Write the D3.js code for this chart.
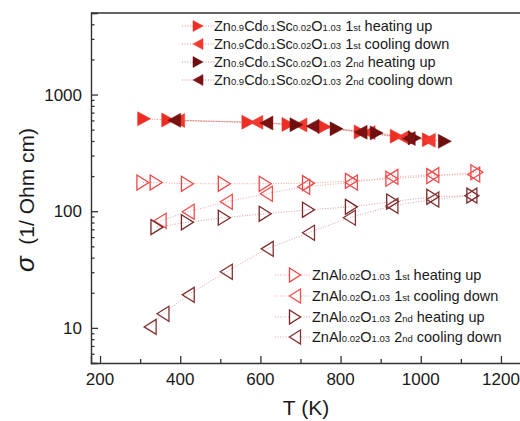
<!DOCTYPE html>
<html><head><meta charset="utf-8">
<script src="https://cdn.jsdelivr.net/npm/d3@7"></script>
<style>body{margin:0;background:#fff}svg{display:block}text{font-family:"Liberation Sans",Arial,sans-serif}</style>
</head><body>
<svg id="chart" width="520" height="421"></svg>
<script>
// ---- data: Zn0.9Cd0.1Sc0.02O1.03 ----
const cdHeat1T = [310, 370, 570, 670, 760, 850, 940, 1020];
const cdHeat1S = [620, 605, 580, 555, 530, 478, 440, 410];
const cdCool1T = [1020, 955, 870, 700, 590, 395];
const cdCool1S = [405, 428, 472, 548, 578, 600];
const cdHeat2T = [690, 790, 890, 985, 1060];
const cdHeat2S = [552, 508, 469, 425, 397];
const cdCool2T = [970, 850, 730, 615, 385];
const cdCool2S = [420, 475, 535, 570, 601];
// ---- data: ZnAl0.02O1.03 ----
const alHeat1T = [307, 340, 418, 510, 612, 720, 827, 928, 1030, 1140];
const alHeat1S = [176, 176, 172, 172, 172, 174, 182, 190, 200, 216];
const alCool1T = [1132, 1030, 928, 827, 708, 615, 515, 420, 350];
const alCool1S = [206, 204, 197, 176, 162, 141, 120.6, 99, 82.9];
const alHeat2T = [342, 418, 510, 612, 720, 827, 930, 1030, 1130];
const alHeat2S = [73, 80.5, 88, 95, 103, 109, 121, 133, 136];
const alCool2T = [1125, 1030, 928, 822, 720, 617, 515, 420, 357, 325];
const alCool2S = [136, 126, 111, 88, 65.3, 47.6, 30.3, 19.2, 13.2, 10.2];
// ---- axes ----
const xTicks = [200, 400, 600, 800, 1000, 1200];
const yTicks = [10, 100, 1000];
const xDomain = [177.5, 1250];
const yDomain = [5, 5000];
const xTitle = "T (K)";
const yTitleSym = "σ";
const yTitle = "(1/ Ohm cm)";
// legend label parts: [text, isSmall]
const cdFormula = [["Zn",0],["0.9",1],["Cd",0],["0.1",1],["Sc",0],["0.02",1],["O",0],["1.03",1]];
const alFormula = [["Zn",0],["Al",0],["0.02",1],["O",0],["1.03",1]];
const runLabels = [
  [[" 1",0],["st",1],[" heating up",0]],
  [[" 1",0],["st",1],[" cooling down",0]],
  [[" 2",0],["nd",1],[" heating up",0]],
  [[" 2",0],["nd",1],[" cooling down",0]]
];

const series = [
  {T:alHeat1T, S:alHeat1S, dir:"r", fill:false, color:"#f04545", line:"#f4a0a0", grp:1, row:0},
  {T:alCool1T, S:alCool1S, dir:"l", fill:false, color:"#f25050", line:"#f4a8a8", grp:1, row:1},
  {T:alHeat2T, S:alHeat2S, dir:"r", fill:false, color:"#7a2525", line:"#d4a0a0", grp:1, row:2},
  {T:alCool2T, S:alCool2S, dir:"l", fill:false, color:"#843232", line:"#e0a4a4", grp:1, row:3},
  {T:cdHeat1T, S:cdHeat1S, dir:"r", fill:true, color:"#ee2e24", line:"#f08a84", grp:0, row:0},
  {T:cdCool1T, S:cdCool1S, dir:"l", fill:true, color:"#f23a30", line:"#f08a84", grp:0, row:1},
  {T:cdHeat2T, S:cdHeat2S, dir:"r", fill:true, color:"#6e0e0e", line:"#c88a8a", grp:0, row:2},
  {T:cdCool2T, S:cdCool2S, dir:"l", fill:true, color:"#7a1212", line:"#c88a8a", grp:0, row:3}
];

const svg = d3.select("#chart");
const L = 91, R = 521, Tp = 13, B = 363;
const x = d3.scaleLinear().domain(xDomain).range([L, R]);
const y = d3.scaleLog().domain(yDomain).range([B, Tp]);
const axisColor = "#333";

function tri(dir, w, h) {
  const s = dir === "r" ? 1 : -1;
  return `M${-s*w/2},${-h/2}L${s*w/2},0L${-s*w/2},${h/2}Z`;
}

// frame
svg.append("line").attr("x1", L).attr("x2", R).attr("y1", Tp).attr("y2", Tp)
  .attr("stroke", axisColor).attr("stroke-width", 1.4);
svg.append("line").attr("x1", R).attr("x2", R).attr("y1", Tp).attr("y2", B)
  .attr("stroke", axisColor).attr("stroke-width", 1.4);

// x axis (ticks inward)
const xMinor = d3.range(300, 1300, 200);
const gx = svg.append("g").attr("transform", `translate(0,${B})`)
  .call(d3.axisTop(x).tickValues(xTicks).tickSize(7).tickFormat(""));
svg.append("g").attr("transform", `translate(0,${B})`)
  .call(d3.axisTop(x).tickValues(xMinor).tickSize(4).tickFormat(""))
  .select(".domain").remove();
svg.selectAll("g").selectAll(".tick line").attr("stroke", axisColor).attr("stroke-width", 1.3);
gx.select(".domain").attr("stroke", axisColor).attr("stroke-width", 1.4);
svg.append("g").selectAll("text").data(xTicks).join("text")
  .attr("x", d => x(d)).attr("y", 385).attr("text-anchor", "middle")
  .attr("font-size", 17).attr("fill", "#1a1a1a").text(d => d);

// y axis (ticks inward)
const yMinor = [];
[1, 10, 100, 1000].forEach(dec => { for (let k = 2; k <= 9; k++) { const v = k*dec; if (v >= yDomain[0] && v <= yDomain[1]) yMinor.push(v); } });
const gy = svg.append("g").attr("transform", `translate(${L},0)`)
  .call(d3.axisRight(y).tickValues(yTicks).tickSize(7).tickFormat(""));
const gym = svg.append("g").attr("transform", `translate(${L},0)`)
  .call(d3.axisRight(y).tickValues(yMinor).tickSize(3.5).tickFormat(""));
gym.select(".domain").remove();
svg.selectAll(".tick line").attr("stroke", axisColor).attr("stroke-width", 1.3);
gy.select(".domain").attr("stroke", axisColor).attr("stroke-width", 1.4);
svg.append("g").selectAll("text").data(yTicks).join("text")
  .attr("x", 82).attr("y", d => y(d) + 6).attr("text-anchor", "end")
  .attr("font-size", 17).attr("fill", "#1a1a1a").text(d => d);

// axis titles
svg.append("text").attr("x", 306).attr("y", 415).attr("text-anchor", "middle")
  .attr("font-size", 21).attr("fill", "#1a1a1a").text(xTitle);
const yt = svg.append("text").attr("transform", "translate(34,200) rotate(-90)")
  .attr("text-anchor", "middle").attr("font-size", 21).attr("fill", "#1a1a1a")
  .style("white-space", "pre");
yt.append("tspan").attr("font-style", "italic").attr("font-size", 26).text(yTitleSym);
yt.append("tspan").text("  " + yTitle);

// data
const plot = svg.append("g");
const lineGen = d3.line().x(d => x(d[0])).y(d => y(d[1]));
series.forEach(s => {
  const pts = s.T.map((t, i) => [t, s.S[i]]);
  plot.append("path").attr("d", lineGen(pts)).attr("fill", "none")
    .attr("stroke", s.line).attr("stroke-width", 1).attr("stroke-dasharray", "1,1.6");
});
series.forEach(s => {
  const pts = s.T.map((t, i) => [t, s.S[i]]);
  plot.append("g").selectAll("path").data(pts).join("path")
    .attr("transform", d => `translate(${x(d[0])},${y(d[1])})`)
    .attr("d", s.fill ? tri(s.dir, 13, 14) : tri(s.dir, 12, 15))
    .attr("fill", s.fill ? s.color : "none")
    .attr("stroke", s.color).attr("stroke-width", s.fill ? 0.5 : 1.3)
    .attr("stroke-linejoin", "miter");
});

// legends
const legends = [
  {x0: 182, x1: 215, mx: 198, tx: 214, ys: [26, 44, 62, 80], formula: cdFormula},
  {x0: 275, x1: 311, mx: 295, tx: 312, ys: [275, 296, 317, 337], formula: alFormula}
];
series.forEach(s => {
  const lg = legends[s.grp];
  const yy = lg.ys[s.row];
  svg.append("line").attr("x1", lg.x0).attr("x2", lg.x1).attr("y1", yy).attr("y2", yy)
    .attr("stroke", s.line).attr("stroke-width", 1).attr("stroke-dasharray", "1,1.6");
  svg.append("path").attr("transform", `translate(${lg.mx},${yy})`)
    .attr("d", s.fill ? tri(s.dir, 10, 11) : tri(s.dir, 11, 14))
    .attr("fill", s.fill ? s.color : "#fff")
    .attr("stroke", s.color).attr("stroke-width", s.fill ? 0.5 : 1.3);
  const t = svg.append("text").attr("x", lg.tx).attr("y", yy + 5)
    .attr("fill", "#1a1a1a").attr("font-size", 14.5).style("white-space", "pre");
  lg.formula.concat(runLabels[s.row]).forEach(p => {
    t.append("tspan").attr("font-size", p[1] ? 9.5 : 14.5).text(p[0]);
  });
});
</script>
</body></html>
